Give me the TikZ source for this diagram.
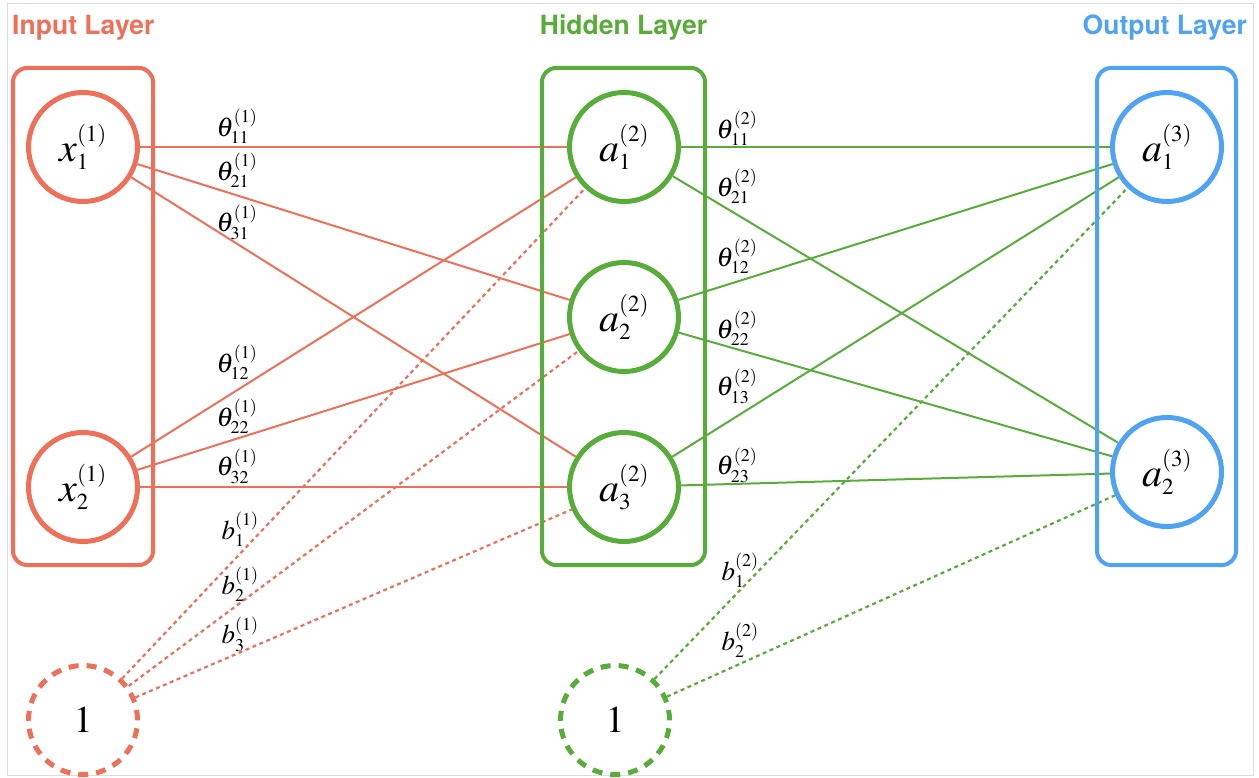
\documentclass[tikz,border=0pt]{standalone}
\usepackage{mathptmx}
\usepackage[no-math]{fontspec}
\newfontfamily\titlefont{TeX Gyre Heros}[BoldFont={* Bold}]
\usetikzlibrary{backgrounds}
% large math with compact scripts
\DeclareMathSizes{40}{40}{23}{16}
\DeclareMathSizes{38}{38}{22}{16}
\DeclareMathSizes{27}{27}{18}{12}

\definecolor{inred}{HTML}{EE7059}
\definecolor{hidgreen}{HTML}{58AD3A}
\definecolor{outblue}{HTML}{4FA3F4}
\definecolor{framegray}{HTML}{DCDCDC}

\newcommand{\neuronfont}{\fontsize{40}{48}\selectfont}
\newcommand{\biasfont}{\fontsize{38}{46}\selectfont}
\newcommand{\weightfont}{\fontsize{27}{32}\selectfont}

\tikzset{
  neuron/.style={circle, draw=#1, fill=white, line width=5pt,
    minimum size=109pt, inner sep=0pt, font=\neuronfont},
  biasunit/.style={circle, draw=#1, fill=white, line width=5pt,
    dash pattern=on 10pt off 8pt, minimum size=109pt, inner sep=0pt,
    font=\biasfont},
  layerbox/.style={draw=#1, rounded corners=14pt, line width=4pt,
    inner sep=0pt},
  layertitle/.style={text=#1, font=\titlefont\bfseries\fontsize{26.5}{30}\selectfont,
    inner sep=0pt},
  conn/.style={draw=#1, line width=2pt},
  biasconn/.style={draw=#1, line width=2.2pt, dash pattern=on 4pt off 3.5pt},
  wlabel/.style={font=\weightfont, inner sep=0pt},
}

\begin{document}
\begin{tikzpicture}[x=1pt, y=-1pt]
\useasboundingbox (0,0) rectangle (1259,778);
\draw[framegray, line width=1pt] (7,4) rectangle (1253,775);

% layer titles
\node[layertitle=inred, anchor=base west] (tin) at (12,35) {Input Layer};
\node[layertitle=hidgreen, anchor=base] (thid) at (623.5,35) {Hidden Layer};
\node[layertitle=outblue, anchor=base east] (tout) at (1247,35) {Output Layer};

% layer frames
\node[layerbox=inred, minimum width=140pt, minimum height=497pt] (inbox) at (83,316.5) {};
\node[layerbox=hidgreen, minimum width=163pt, minimum height=497pt] (hidbox) at (623.5,316.5) {};
\node[layerbox=outblue, minimum width=139pt, minimum height=497pt] (outbox) at (1166.5,316.5) {};

% units
\node[neuron=inred] (x1) at (83,147) {$x_1^{(1)}$};
\node[neuron=inred] (x2) at (83,487) {$x_2^{(1)}$};
\node[neuron=hidgreen] (h1) at (624,147) {$a_1^{(2)}$};
\node[neuron=hidgreen] (h2) at (624,317) {$a_2^{(2)}$};
\node[neuron=hidgreen] (h3) at (624,487) {$a_3^{(2)}$};
\node[neuron=outblue] (o1) at (1167,147) {$a_1^{(3)}$};
\node[neuron=outblue] (o2) at (1167,472) {$a_2^{(3)}$};
\node[biasunit=inred] (b1) at (83,720) {$1$};
\node[biasunit=hidgreen] (b2) at (615,720) {$1$};

% connections
\begin{scope}[on background layer]
  \draw[conn=inred] (x1) -- (h1);
  \draw[conn=inred] (x1) -- (h2);
  \draw[conn=inred] (x1) -- (h3);
  \draw[conn=inred] (x2) -- (h1);
  \draw[conn=inred] (x2) -- (h2);
  \draw[conn=inred] (x2) -- (h3);
  \draw[biasconn=inred] (b1) -- (h1);
  \draw[biasconn=inred] (b1) -- (h2);
  \draw[biasconn=inred] (b1) -- (h3);
  \draw[conn=hidgreen] (h1) -- (o1);
  \draw[conn=hidgreen] (h1) -- (o2);
  \draw[conn=hidgreen] (h2) -- (o1);
  \draw[conn=hidgreen] (h2) -- (o2);
  \draw[conn=hidgreen] (h3) -- (o1);
  \draw[conn=hidgreen] (h3) -- (o2);
  \draw[biasconn=hidgreen] (b2) -- (o1);
  \draw[biasconn=hidgreen] (b2) -- (o2);
\end{scope}

% weight and bias labels
\node[wlabel] (w111) at (237,126) {$\theta_{11}^{(1)}$};
\node[wlabel] (w121) at (237,170) {$\theta_{21}^{(1)}$};
\node[wlabel] (w131) at (237,222) {$\theta_{31}^{(1)}$};
\node[wlabel] (w112) at (237,362) {$\theta_{12}^{(1)}$};
\node[wlabel] (w122) at (237,416) {$\theta_{22}^{(1)}$};
\node[wlabel] (w132) at (237,466) {$\theta_{32}^{(1)}$};
\node[wlabel] (bb11) at (240,529) {$b_{1}^{(1)}$};
\node[wlabel] (bb21) at (240,584) {$b_{2}^{(1)}$};
\node[wlabel] (bb31) at (240,634) {$b_{3}^{(1)}$};
\node[wlabel] (w211) at (737,128) {$\theta_{11}^{(2)}$};
\node[wlabel] (w221) at (737,186) {$\theta_{21}^{(2)}$};
\node[wlabel] (w212) at (737,256) {$\theta_{12}^{(2)}$};
\node[wlabel] (w222) at (737,328) {$\theta_{22}^{(2)}$};
\node[wlabel] (w213) at (737,386) {$\theta_{13}^{(2)}$};
\node[wlabel] (w223) at (737,465) {$\theta_{23}^{(2)}$};
\node[wlabel] (bb12) at (740,570) {$b_{1}^{(2)}$};
\node[wlabel] (bb22) at (740,640) {$b_{2}^{(2)}$};
\end{tikzpicture}
\end{document}
